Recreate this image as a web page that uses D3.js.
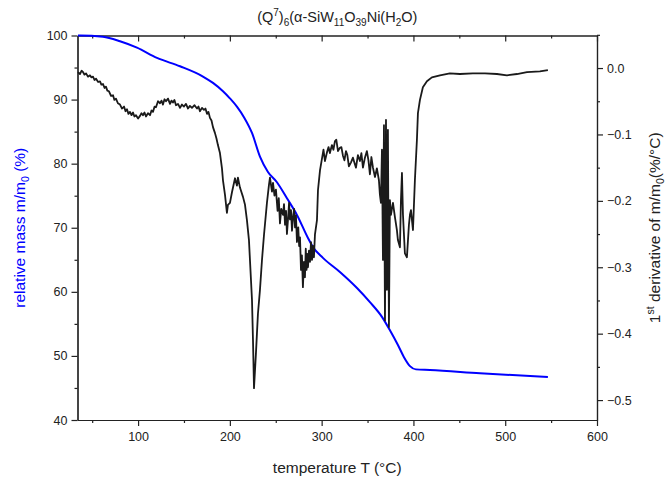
<!DOCTYPE html>
<html>
<head>
<meta charset="utf-8">
<script src="https://cdn.jsdelivr.net/npm/d3@7"></script>
<style>
  body { margin: 0; background: #fff; }
  svg { font-family: "Liberation Sans", Arial, sans-serif; }
</style>
</head>
<body>
<div id="chart"></div>
<script>
'use strict';

// TG curve: temperature (°C) and relative mass (%)
const tgTemp = [34.5, 36.7, 61.8, 80.3, 98.8, 120.6, 145.7, 170.7, 181.6, 192.5, 200.0, 207.7, 216.0,
    224.1, 232.8, 241.5, 251.3, 262.2, 273.1, 285.1, 290.5, 301.4, 319.9, 338.5, 352.6, 365.7,
    374.4, 383.1, 389.7, 396.2, 402.7, 418.0, 472.5, 546.5];
const tgMass = [100, 100, 99.8, 99.1, 98.1, 96.5, 95.2, 93.6, 92.6, 91.3, 90.2, 88.9, 87.1,
    84.8, 81.1, 78.7, 77.1, 74.6, 72.0, 68.4, 67.0, 65.3, 63.1, 60.6, 58.4, 56.1,
    54.0, 51.7, 49.8, 48.4, 47.9, 47.8, 47.3, 46.7];

// DTG curve: temperature (°C) and 1st derivative (%/°C)
const dtgTemp = [34.5, 36.7, 38.5, 40.0, 41.5, 43.3, 45.5, 47.6, 49.0, 50.9, 52.5, 54.2, 56.5, 58.5,
    60.0, 61.8, 63.5, 65.0, 66.5, 68.3, 70.5, 72.7, 74.2, 75.9, 78.0, 80.3, 82.5, 84.7, 86.3, 87.9,
    89.5, 91.2, 92.8, 94.5, 96.0, 97.7, 100.0, 102.1, 103.7, 105.3, 107.0, 108.6, 110.8, 113.0,
    114.6, 116.2, 118.0, 119.5, 121.7, 123.9, 125.5, 127.1, 128.8, 130.4, 132.6, 134.8, 136.4,
    138.0, 139.6, 141.3, 143.5, 145.7, 147.8, 150.0, 152.2, 154.4, 156.5, 158.7, 161.5, 164.2,
    165.8, 167.4, 169.6, 171.8, 173.4, 175.1, 176.7, 178.3, 180.0, 181.6,
    183.8, 185.4, 187.0, 189.2, 191.4, 192.5, 194.7, 196.8, 197.9, 200.1, 202.3, 205.6, 207.7, 208.8,
    211.0, 214.3, 216.5, 218.6, 220.8, 221.9, 224.1, 225.2, 226.3, 228.4, 229.5, 230.6, 232.8,
    235.0, 237.2, 240.4, 242.6, 243.7, 245.9, 247.0, 248.6, 250.2, 252.0, 253.3, 254.6, 256.0, 257.9,
    259.0, 260.1, 261.2, 262.2, 263.5, 264.5, 265.5, 266.6, 267.7, 269.0, 270.0, 271.0, 272.0, 273.1,
    274.5, 275.5, 276.4, 277.5, 278.5, 279.6, 280.7, 281.8, 282.7, 283.5,
    284.3, 285.1, 286.2, 287.3, 288.4, 289.5, 290.5, 291.6, 292.7, 294.9, 296.0, 298.2, 300.4, 302.0,
    303.6, 305.8, 307.5, 309.0, 311.2, 312.8, 314.5, 316.0, 317.8, 319.9, 321.5, 323.2, 324.8,
    326.5, 328.0, 329.7, 332.0, 334.1, 335.8, 337.4, 339.5, 341.7, 343.3, 345.0, 347.0, 349.3,
    351.0, 352.6, 354.2, 355.9, 358.1, 360.2, 362.4, 363.5, 364.6, 365.7, 366.8, 367.9, 369.0,
    370.1, 371.1, 372.2, 373.3, 374.4, 375.5, 377.7, 379.8, 382.0, 383.1, 385.3, 386.4, 387.5,
    388.6, 390.7, 392.9, 395.1, 396.2, 397.3, 399.5, 401.6, 403.8, 404.9, 407.1, 410.3, 414.7,
    420.1, 428.9, 439.7, 450.6, 464.8, 477.9, 491.0, 501.9, 512.8, 523.7, 537.8, 546.5];
const dtgValue = [-0.006, -0.009, -0.004, -0.006, -0.010, -0.008, -0.013, -0.011, -0.014, -0.013,
    -0.018, -0.016, -0.021, -0.020, -0.025, -0.024, -0.030, -0.028, -0.034, -0.035, -0.042, -0.041,
    -0.048, -0.046, -0.053, -0.055, -0.061, -0.058, -0.065, -0.062, -0.069, -0.066, -0.071, -0.067,
    -0.073, -0.071, -0.076, -0.072, -0.068, -0.071, -0.067, -0.073, -0.068, -0.071, -0.064, -0.066,
    -0.058, -0.059, -0.050, -0.053, -0.049, -0.055, -0.047, -0.050, -0.046, -0.054, -0.049, -0.052,
    -0.048, -0.056, -0.054, -0.060, -0.055, -0.058, -0.054, -0.061, -0.057, -0.060, -0.056, -0.061,
    -0.058, -0.065, -0.060, -0.063, -0.061, -0.069, -0.066, -0.075, -0.079, -0.089,
    -0.098, -0.106, -0.116, -0.128, -0.151, -0.169, -0.191, -0.218, -0.206, -0.203, -0.187, -0.166,
    -0.177, -0.165, -0.180, -0.194, -0.206, -0.229, -0.259, -0.289, -0.349, -0.410, -0.482, -0.430,
    -0.400, -0.370, -0.334, -0.289, -0.251, -0.203, -0.176, -0.165, -0.186, -0.173, -0.192, -0.183,
    -0.215, -0.196, -0.234, -0.212, -0.221, -0.205, -0.236, -0.215, -0.250, -0.225, -0.203, -0.228,
    -0.214, -0.245, -0.222, -0.212, -0.240, -0.222, -0.262, -0.240, -0.268, -0.255, -0.304, -0.282,
    -0.330, -0.292, -0.315, -0.272, -0.304, -0.280, -0.300, -0.275, -0.292, -0.262, -0.289, -0.268,
    -0.285, -0.251, -0.229, -0.184, -0.154, -0.136, -0.123, -0.140, -0.127, -0.119, -0.128, -0.116,
    -0.123, -0.110, -0.108, -0.125, -0.120, -0.119, -0.132, -0.139, -0.125, -0.131, -0.148, -0.142,
    -0.135, -0.143, -0.150, -0.131, -0.140, -0.128, -0.150, -0.136, -0.125, -0.139, -0.160, -0.134,
    -0.150, -0.164, -0.151, -0.169, -0.191, -0.203, -0.123, -0.289, -0.086, -0.380, -0.078, -0.334,
    -0.093, -0.390, -0.199, -0.221, -0.203, -0.224, -0.244, -0.259, -0.270, -0.199, -0.158, -0.221,
    -0.279, -0.285, -0.236, -0.221, -0.214, -0.244, -0.169, -0.108, -0.068, -0.048, -0.029, -0.020,
    -0.014, -0.011, -0.008, -0.009, -0.008, -0.008, -0.009, -0.011, -0.009, -0.006, -0.005, -0.003,
    -0.003];

const tempTicks = [100, 200, 300, 400, 500, 600];
const tempMinor = [50, 150, 250, 350, 450, 550];
const massTicks = [40, 50, 60, 70, 80, 90, 100];
const massMinor = [45, 55, 65, 75, 85, 95];
const derivTicks = [0.0, -0.1, -0.2, -0.3, -0.4, -0.5];
const derivMinor = [0.05, -0.05, -0.15, -0.25, -0.35, -0.45];

const width = 668, height = 483;
const margin = { top: 35.5, right: 71, bottom: 63, left: 77.5 };
const innerW = width - margin.left - margin.right;
const innerH = height - margin.top - margin.bottom;

const svg = d3.select('#chart')
    .append('svg')
    .attr('width', width)
    .attr('height', height);

const chart = svg.append('g')
    .attr('transform', `translate(${margin.left},${margin.top})`);

const x = d3.scaleLinear().domain([34, 600]).range([0, innerW]);
const yMass = d3.scaleLinear().domain([40, 100]).range([innerH, 0]);
const yDeriv = d3.scaleLinear().domain([-0.53, 0.049]).range([innerH, 0]);

const axisColor = '#222';

function styleAxis(g) {
    g.select('.domain').attr('stroke', axisColor).attr('stroke-width', 1.2);
    g.selectAll('.tick line').attr('stroke', axisColor).attr('stroke-width', 1.2);
    g.selectAll('.tick text').attr('fill', '#222').style('font-size', '12.5px');
}

// bottom
chart.append('g')
    .attr('transform', `translate(0,${innerH})`)
    .call(d3.axisBottom(x).tickValues(tempTicks).tickSize(6).tickSizeOuter(0).tickPadding(6))
    .call(styleAxis);
chart.append('g')
    .attr('transform', `translate(0,${innerH})`)
    .call(d3.axisBottom(x).tickValues(tempMinor).tickSize(3).tickSizeOuter(0).tickFormat(''))
    .call(styleAxis);

// top, ticks inside
chart.append('g')
    .call(d3.axisTop(x).tickValues(tempTicks).tickSize(-6).tickSizeOuter(0).tickFormat(''))
    .call(styleAxis);
chart.append('g')
    .call(d3.axisTop(x).tickValues(tempMinor).tickSize(-3).tickSizeOuter(0).tickFormat(''))
    .call(styleAxis);

// left (mass)
chart.append('g')
    .call(d3.axisLeft(yMass).tickValues(massTicks).tickSize(6).tickSizeOuter(0).tickPadding(4))
    .call(styleAxis);
chart.append('g')
    .call(d3.axisLeft(yMass).tickValues(massMinor).tickSize(3).tickSizeOuter(0).tickFormat(''))
    .call(styleAxis);

// right (derivative)
chart.append('g')
    .attr('transform', `translate(${innerW},0)`)
    .call(d3.axisRight(yDeriv).tickValues(derivTicks).tickSize(6).tickSizeOuter(0).tickPadding(4)
        .tickFormat(d3.format('.1f')))
    .call(styleAxis);
chart.append('g')
    .attr('transform', `translate(${innerW},0)`)
    .call(d3.axisRight(yDeriv).tickValues(derivMinor).tickSize(3).tickSizeOuter(0).tickFormat(''))
    .call(styleAxis);

// curves
const tgLine = d3.line()
    .x(d => x(d[0]))
    .y(d => yMass(d[1]))
    .curve(d3.curveMonotoneX);

const dtgLine = d3.line()
    .x(d => x(d[0]))
    .y(d => yDeriv(d[1]));

chart.append('path')
    .datum(d3.zip(tgTemp, tgMass))
    .attr('d', tgLine)
    .attr('fill', 'none')
    .attr('stroke', '#0000ff')
    .attr('stroke-width', 2);

chart.append('path')
    .datum(d3.zip(dtgTemp, dtgValue))
    .attr('d', dtgLine)
    .attr('fill', 'none')
    .attr('stroke', '#1a1a1a')
    .attr('stroke-width', 1.8)
    .attr('stroke-linejoin', 'round');

// title
const title = svg.append('text')
    .attr('x', margin.left + innerW / 2)
    .attr('y', 22)
    .attr('text-anchor', 'middle')
    .style('font-size', '14.5px')
    .attr('fill', '#222');
title.append('tspan').text('(Q');
title.append('tspan').attr('dy', -6).style('font-size', '10px').text('7');
title.append('tspan').attr('dy', 6).text(')');
title.append('tspan').attr('dy', 4).style('font-size', '10px').text('6');
title.append('tspan').attr('dy', -4).text('(α-SiW');
title.append('tspan').attr('dy', 4).style('font-size', '10px').text('11');
title.append('tspan').attr('dy', -4).text('O');
title.append('tspan').attr('dy', 4).style('font-size', '10px').text('39');
title.append('tspan').attr('dy', -4).text('Ni(H');
title.append('tspan').attr('dy', 4).style('font-size', '10px').text('2');
title.append('tspan').attr('dy', -4).text('O)');

// x label
svg.append('text')
    .attr('x', margin.left + innerW / 2)
    .attr('y', 473)
    .attr('text-anchor', 'middle')
    .style('font-size', '15.5px')
    .attr('fill', '#222')
    .text('temperature T (°C)');

// left y label
const yl = svg.append('text')
    .attr('transform', `translate(25,${margin.top + innerH / 2}) rotate(-90)`)
    .attr('text-anchor', 'middle')
    .style('font-size', '15.5px')
    .attr('fill', '#0000ff');
yl.append('tspan').text('relative mass m/m');
yl.append('tspan').attr('dy', 4).style('font-size', '10.5px').text('0');
yl.append('tspan').attr('dy', -4).text(' (%)');

// right y label
const yr = svg.append('text')
    .attr('transform', `translate(660,${margin.top + innerH / 2}) rotate(-90)`)
    .attr('text-anchor', 'middle')
    .style('font-size', '15.5px')
    .attr('fill', '#222');
yr.append('tspan').text('1');
yr.append('tspan').attr('dy', -6).style('font-size', '10.5px').text('st');
yr.append('tspan').attr('dy', 6).text(' derivative of m/m');
yr.append('tspan').attr('dy', 4).style('font-size', '10.5px').text('0');
yr.append('tspan').attr('dy', -4).text('(%/°C)');
</script>
</body>
</html>
